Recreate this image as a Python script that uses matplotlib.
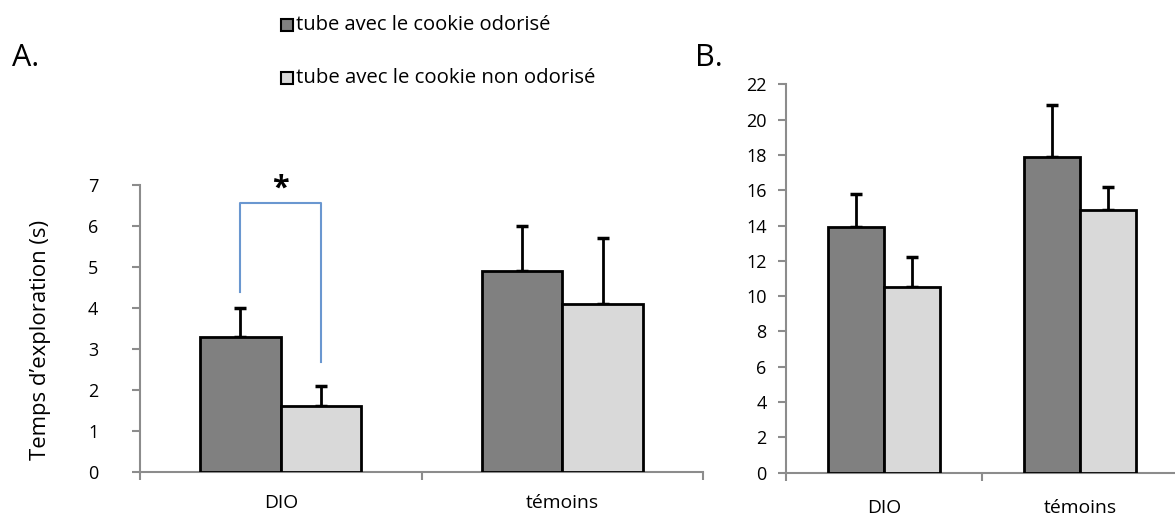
import matplotlib
matplotlib.use("Agg")
import matplotlib.pyplot as plt
from matplotlib.patches import Rectangle
import numpy as np

plt.rcParams['font.family'] = ['Open Sans', 'DejaVu Sans']

categories = ["DIO", "témoins"]
series_labels = ["tube avec le cookie odorisé", "tube avec le cookie non odorisé"]
# Panel A
a_odor = [3.3, 4.9]
a_odor_err = [0.7, 1.1]
a_non = [1.6, 4.1]
a_non_err = [0.5, 1.6]
# Panel B
b_odor = [13.9, 17.9]
b_odor_err = [1.9, 2.9]
b_non = [10.5, 14.9]
b_non_err = [1.7, 1.3]

a_yticks = list(range(0, 8))
b_yticks = list(range(0, 23, 2))

dark = "#808080"
light = "#d9d9d9"
axis_col = "#8c8c8c"
W, H = 1175, 515
fig = plt.figure(figsize=(W / 100, H / 100), dpi=100)
renderer = fig.canvas.get_renderer()

def fit_width(txt, target_px, vertical=False):
    fs = txt.get_fontsize()
    for _ in range(3):
        bb = txt.get_window_extent(renderer)
        cur = bb.height if vertical else bb.width
        fs = fs * target_px / cur
        txt.set_fontsize(fs)
    return fs

def style_axes(ax, ymax, yticks, ypad, xlab_pad, xlab_size, ysize):
    for s in ['top', 'right']:
        ax.spines[s].set_visible(False)
    for s in ['left', 'bottom']:
        ax.spines[s].set_color(axis_col)
        ax.spines[s].set_linewidth(1.5)
    ax.set_ylim(0, ymax)
    ax.set_xlim(0, 2)
    ax.set_yticks(yticks)
    ax.tick_params(axis='y', colors=axis_col, length=6, width=1.5, labelcolor='black',
                   labelsize=ysize, pad=ypad)
    ax.set_xticks([0, 1, 2])
    ax.set_xticklabels([])
    ax.tick_params(axis='x', which='major', colors=axis_col, length=6, width=1.5)
    ax.set_xticks([0.5, 1.5], minor=True)
    ax.set_xticklabels(categories, minor=True)
    ax.tick_params(axis='x', which='minor', length=0, labelsize=xlab_size, pad=xlab_pad,
                   labelcolor='black')

def draw_bars(ax, v1, e1, v2, e2):
    x = np.array([0.5, 1.5])
    w = 0.286
    ax.bar(x - w / 2, v1, w, color=dark, edgecolor='black', linewidth=2, zorder=3)
    ax.bar(x + w / 2, v2, w, color=light, edgecolor='black', linewidth=2, zorder=3)
    ax.errorbar(x - w / 2, v1, yerr=[np.zeros(2), e1], fmt='none', ecolor='black',
                elinewidth=2, capsize=4, capthick=2.5, zorder=2)
    ax.errorbar(x + w / 2, v2, yerr=[np.zeros(2), e2], fmt='none', ecolor='black',
                elinewidth=2, capsize=4, capthick=2.5, zorder=2)

# Panel A
axA = fig.add_axes([140 / W, 1 - 472 / H, (703 - 140) / W, (472 - 185) / H])
style_axes(axA, 7, a_yticks, 24, 16, 12, 13)
draw_bars(axA, a_odor, a_odor_err, a_non, a_non_err)
w = 0.286
xl, xr = 0.5 - w / 2, 0.5 + w / 2
blue = "#6a97d0"
axA.plot([xl, xl, xr, xr], [4.4, 6.55, 6.55, 2.68], color=blue, lw=1.5,
         clip_on=False, zorder=4)
axA.text(0.5, 6.92, "*", ha='center', va='center', fontsize=22, fontweight='bold',
         clip_on=False)

# Panel B
axB = fig.add_axes([786 / W, 1 - 472.7 / H, (1178 - 786) / W, (472.7 - 84.3) / H])
style_axes(axB, 22, b_yticks, 8, 19, 12, 13)
draw_bars(axB, b_odor, b_odor_err, b_non, b_non_err)

fig.canvas.draw()
for ax in (axA, axB):
    labs = ax.get_xticklabels(minor=True)
    fs = fit_width(labs[1], 73)
    labs[0].set_fontsize(fs)

ylab = fig.text(41 / W, 1 - 340 / H, "Temps d\u2019exploration (s)", rotation=90,
                ha='center', va='center', fontsize=17)
fit_width(ylab, 240, vertical=True)
fig.text(12 / W, 1 - 66 / H, "A.", fontsize=22, ha='left', va='baseline')
fig.text(695 / W, 1 - 66 / H, "B.", fontsize=22, ha='left', va='baseline')

# legend (manual)
text_left = 296
line_y = [25, 78]
targets = [550, 595]
for i, (lab, col) in enumerate(zip(series_labels, [dark, light])):
    t = fig.text(text_left / W, 1 - line_y[i] / H, lab, ha='left', va='center',
                 fontsize=14)
    fit_width(t, targets[i] - text_left)
    sq = 12
    fig.patches.append(Rectangle(((text_left - sq - 3) / W, 1 - (line_y[i] + sq / 2) / H),
                                 sq / W, sq / H, transform=fig.transFigure,
                                 facecolor=col, edgecolor='black', linewidth=1.5))

fig.savefig("out.png", dpi=100)
